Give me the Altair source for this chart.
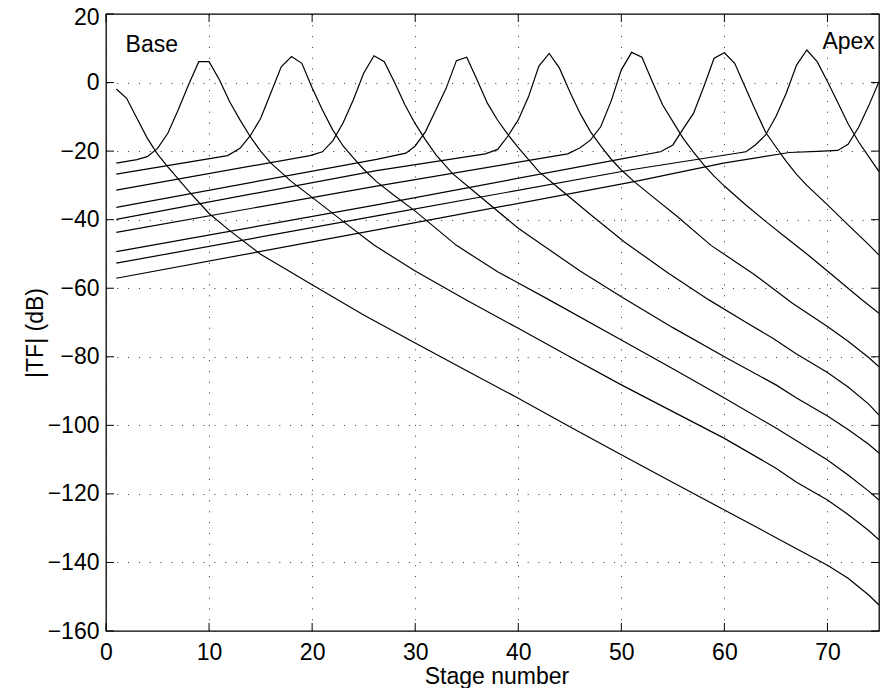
import altair as alt
import pandas as pd

# ---- data (stage number vs |TF| in dB) ----
stage_c0 = [1, 2, 3, 4, 5, 6, 8, 10, 12, 15, 20, 25, 30, 35, 40, 45, 50, 55, 60, 63, 66, 68, 70, 72, 74, 75]
db_c0 = [-1.9, -4.6, -10.4, -16.2, -20.9, -24.6, -31.6, -38.2, -43.2, -50.1, -59.0, -67.8, -76.0, -84.1,
         -92.1, -100.4, -108.6, -116.7, -124.7, -129.5, -134.4, -137.6, -140.8, -144.6, -149.5, -152.4]

stage_c1 = [1, 3, 4, 5, 6, 7, 8, 9, 10, 11, 12, 13, 14, 15, 16, 18, 20, 23, 26, 30, 35, 40, 45, 50, 55, 60,
            65, 67, 70, 72, 74, 75]
db_c1 = [-23.5, -22.5, -21.6, -19.2, -14.8, -8.0, -0.7, 6.1, 6.1, 0.8, -5.6, -10.9, -15.8, -20.0, -23.5,
         -28.9, -33.5, -40.5, -47.4, -55.0, -63.5, -71.7, -80.0, -88.2, -96.0, -103.8, -112.5, -116.6,
         -121.8, -126.0, -130.7, -133.4]

stage_c2 = [1, 11.8, 13, 14, 15, 16, 17, 18, 19, 20, 21, 22, 23, 24, 25, 26.25, 28, 30, 34, 38, 43, 50, 55,
            60, 65, 67, 70, 72, 74, 75]
db_c2 = [-26.7, -21.3, -19.2, -15.5, -10.5, -3.0, 4.6, 7.6, 5.6, -1.5, -8.0, -13.8, -18.5, -22.0, -25.3,
         -28.9, -33.0, -37.5, -47.5, -55.2, -63.4, -75.1, -83.5, -92.0, -100.8, -104.5, -110.1, -114.5,
         -119.2, -121.8]

stage_c3 = [1, 19.8, 21, 22, 23, 24, 25, 26, 27, 28, 29, 30, 31, 32, 33.6, 36, 40, 46, 50, 55, 60, 65, 67,
            70, 72, 74, 75]
db_c3 = [-31.4, -21.3, -20.2, -17.0, -11.8, -5.0, 2.7, 7.8, 6.1, 0.0, -6.5, -12.0, -16.7, -21.0, -26.5,
         -32.5, -42.5, -55.0, -62.5, -71.5, -80.0, -88.2, -92.0, -97.3, -101.2, -105.5, -108.1]

stage_c4 = [1, 26.25, 29.1, 30, 31, 32, 33, 34, 35, 36, 37, 38, 39, 40, 41, 42, 44, 47, 50.3, 54.5, 58.5,
            62, 64.7, 67, 70, 72, 74, 75]
db_c4 = [-36.4, -22.4, -20.6, -18.5, -14.3, -8.0, -1.7, 6.4, 7.4, 0.8, -6.0, -11.0, -15.2, -19.0, -22.5,
         -26.0, -31.0, -38.5, -46.5, -55.5, -63.4, -69.8, -74.6, -79.2, -84.6, -88.8, -93.8, -97.0]

stage_c5 = [1, 26.25, 36.8, 38, 39, 40, 41, 42, 43, 44, 45, 46, 47, 48, 49, 50, 51.25, 53, 55.4, 58.7,
            62.9, 66.6, 70, 72, 74, 75]
db_c5 = [-39.9, -25.7, -20.8, -19.5, -15.6, -10.9, -4.1, 4.8, 8.5, 4.2, -2.7, -9.0, -14.3, -18.5, -22.3,
         -25.5, -28.9, -33.2, -39.0, -47.5, -56.0, -64.4, -71.2, -75.5, -80.2, -82.9]

stage_c6 = [1, 26.25, 44.8, 46, 47, 48, 49, 50, 51, 52, 53, 54, 55, 56, 57, 58, 59, 60, 62, 64, 66, 68,
            70, 72, 73.4, 75]
db_c6 = [-43.7, -30.2, -20.8, -19.0, -16.8, -12.9, -5.5, 3.7, 8.8, 7.4, 0.3, -6.5, -11.4, -16.3, -20.3,
         -24.0, -27.3, -30.2, -35.5, -40.5, -45.3, -50.0, -55.0, -60.0, -63.5, -67.3]

stage_c7 = [1, 26.25, 50.3, 53.8, 55, 56, 57, 58, 59, 60, 61, 62, 63, 64, 65, 66, 67, 68, 70, 72, 74, 75]
db_c7 = [-49.3, -35.7, -22.1, -20.2, -18.2, -13.5, -9.0, -1.2, 7.1, 8.7, 5.6, -1.2, -8.0, -14.5, -18.8,
         -23.0, -26.8, -30.0, -35.7, -41.5, -47.3, -50.3]

stage_c8 = [1, 26.25, 51.25, 57, 62.1, 63, 64, 65, 66, 67, 68, 69, 70, 71, 72, 73, 74, 75]
db_c8 = [-52.7, -38.9, -25.3, -22.6, -20.2, -18.2, -15.3, -9.9, -3.1, 5.1, 9.5, 6.1, 0.3, -5.8, -12.0,
         -17.2, -21.6, -26.0]

stage_c9 = [1, 26.25, 51.25, 59.9, 66.3, 69, 71, 72, 73, 74, 75]
db_c9 = [-57.1, -43.0, -28.9, -23.5, -20.4, -20.1, -19.8, -18.0, -13.2, -6.8, 0.3]

x_ticks = [0, 10, 20, 30, 40, 50, 60, 70]
y_ticks = [-160, -140, -120, -100, -80, -60, -40, -20, 0, 20]

note_text = ["Base", "Apex"]
note_x = [1.9, 74.6]
note_y = [9.0, 9.7]
note_side = ["left", "right"]

curves = [
    ("c0", stage_c0, db_c0), ("c1", stage_c1, db_c1), ("c2", stage_c2, db_c2),
    ("c3", stage_c3, db_c3), ("c4", stage_c4, db_c4), ("c5", stage_c5, db_c5),
    ("c6", stage_c6, db_c6), ("c7", stage_c7, db_c7), ("c8", stage_c8, db_c8),
    ("c9", stage_c9, db_c9),
]
rows = []
for name, s_list, d_list in curves:
    for s, d in zip(s_list, d_list):
        rows.append({"curve": name, "stage": s, "db": d})
df = pd.DataFrame(rows)

W, H = 773, 617
FONT = "Liberation Sans"
FS = 23
TICK = 8
MINUS_EXPR = "datum.value < 0 ? '\u2212' + format(-datum.value, 'd') : format(datum.value, 'd')"

x_scale = alt.Scale(domain=[0, 75], nice=False, zero=False)
y_scale = alt.Scale(domain=[-160, 20], nice=False, zero=False)

x_axis = alt.Axis(
    values=x_ticks, title="Stage number", grid=True, gridDash=[1, 9.8], gridColor="#333",
    gridWidth=1, ticks=False, domain=False, labelFont=FONT, labelFontSize=FS,
    labelColor="black", labelPadding=28, labelBaseline="alphabetic", labelFlush=False,
    labelOverlap=False, titleFont=FONT, titleFontSize=FS, titleFontWeight="normal",
    titleColor="black", titleX=W / 2 + 4, titleY=52, titleBaseline="alphabetic", titleAlign="center",
)
y_axis = alt.Axis(
    values=y_ticks, title="|TF| (dB)", grid=True, gridDash=[1, 9.8], gridColor="#333",
    gridWidth=1, ticks=False, domain=False, labelFont=FONT, labelFontSize=FS,
    labelColor="black", labelPadding=7, labelBaseline="middle", labelFlush=False,
    labelOverlap=False, labelExpr=MINUS_EXPR,
    labelOffset=alt.condition("datum.value == 20", alt.value(3), alt.value(0)),
    titleFont=FONT, titleFontSize=FS, titleFontWeight="normal",
    titleColor="black", titleAngle=-90, titleX=-71, titleY=H / 2 + 10, titleBaseline="middle",
    titleAlign="center",
)

lines = alt.Chart(df).mark_line(color="black", strokeWidth=1.2, clip=True).encode(
    x=alt.X("stage:Q", scale=x_scale, axis=x_axis),
    y=alt.Y("db:Q", scale=y_scale, axis=y_axis),
    detail="curve:N",
)

xt = pd.DataFrame({"stage": x_ticks})
yt = pd.DataFrame({"db": y_ticks})
tick_style = dict(color="black", strokeWidth=1)
tick_bottom = alt.Chart(xt).mark_rule(**tick_style).encode(
    x=alt.X("stage:Q", scale=x_scale), y=alt.value(H), y2=alt.value(H - TICK))
tick_top = alt.Chart(xt).mark_rule(**tick_style).encode(
    x=alt.X("stage:Q", scale=x_scale), y=alt.value(0), y2=alt.value(TICK))
tick_left = alt.Chart(yt).mark_rule(**tick_style).encode(
    y=alt.Y("db:Q", scale=y_scale), x=alt.value(0), x2=alt.value(TICK))
tick_right = alt.Chart(yt).mark_rule(**tick_style).encode(
    y=alt.Y("db:Q", scale=y_scale), x=alt.value(W - TICK), x2=alt.value(W))

notes_df = pd.DataFrame({"label": note_text, "stage": note_x, "db": note_y, "side": note_side})
note_layers = []
for side in ["left", "right"]:
    note_layers.append(
        alt.Chart(notes_df).transform_filter(alt.datum.side == side).mark_text(
            font=FONT, fontSize=FS, color="black", align=side, baseline="alphabetic"
        ).encode(
            x=alt.X("stage:Q", scale=x_scale),
            y=alt.Y("db:Q", scale=y_scale),
            text="label:N",
        )
    )

chart = alt.layer(lines, tick_bottom, tick_top, tick_left, tick_right, *note_layers).properties(
    width=W, height=H,
    padding={"left": 98, "top": 6, "right": 1, "bottom": 57},
    autosize=alt.AutoSizeParams(type="none"),
    background="white",
).configure_view(stroke="black", strokeWidth=1.3)

chart.save("out.html", embed_options={"renderer": "svg", "actions": False})
